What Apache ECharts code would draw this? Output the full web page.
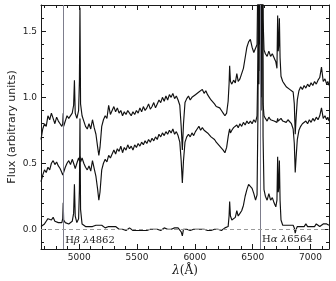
<!DOCTYPE html>
<html><head><meta charset="utf-8">
<script src="https://cdn.jsdelivr.net/npm/echarts@6/dist/echarts.min.js"></script>
<style>html,body{margin:0;padding:0;background:#fff}#c{width:336px;height:281px}</style>
</head><body><div id="c"></div>
<script>
const wavelengths = [
4670,4685,4700,4715,4730,4745,4760,4775,4790,4805,
4820,4835,4850,4858,4862,4866,4880,4895,4910,4925,
4940,4952,4959,4966,4980,4995,5002,5007,5012,5025,
5040,5055,5070,5085,5100,5115,5130,5145,5160,5170,
5180,5195,5210,5225,5240,5255,5270,5285,5300,5315,
5330,5345,5360,5375,5390,5405,5420,5435,5450,5465,
5480,5495,5510,5525,5540,5555,5570,5585,5600,5615,
5630,5645,5660,5675,5690,5705,5720,5735,5750,5765,
5780,5795,5810,5825,5840,5855,5870,5882,5892,5902,
5915,5930,5945,5960,5975,5990,6005,6020,6035,6050,
6065,6080,6095,6110,6125,6140,6155,6170,6185,6200,
6215,6230,6245,6260,6275,6288,6296,6301,6308,6320,
6335,6350,6363,6375,6390,6405,6420,6435,6450,6465,
6480,6495,6510,6525,6538,6546,6550,6554,6558,6562,
6565,6569,6573,6577,6581,6585,6590,6598,6610,6625,
6640,6655,6670,6685,6700,6710,6716,6721,6726,6731,
6737,6745,6760,6775,6790,6805,6820,6835,6850,6860,
6868,6876,6886,6900,6915,6930,6945,6960,6975,6990,
7005,7020,7035,7050,7065,7080,7095,7110,7125,7140,
7150,7160];

const fluxTop = [
0.68,0.76,0.80,0.78,0.86,0.83,0.88,0.84,0.80,0.85,
0.82,0.80,0.78,0.80,0.88,0.78,0.82,0.86,0.84,0.83,
0.88,0.94,1.13,0.88,0.84,0.90,1.12,1.68,0.95,0.86,
0.82,0.78,0.76,0.80,0.76,0.83,0.77,0.72,0.62,0.56,
0.62,0.78,0.83,0.86,0.84,0.94,0.87,0.90,0.93,0.89,
0.92,0.88,0.90,0.86,0.89,0.87,0.90,0.88,0.86,0.89,
0.87,0.90,0.88,0.92,0.89,0.93,0.90,0.92,0.95,0.91,
0.93,0.96,0.92,0.95,0.98,0.96,1.00,0.97,1.01,0.98,
1.02,1.00,1.03,0.99,1.01,0.98,0.94,0.78,0.60,0.80,
0.96,0.99,1.01,0.98,1.00,0.99,1.02,1.01,1.04,1.03,
1.06,1.03,1.05,1.02,1.00,0.98,0.97,0.95,0.93,0.94,
0.92,0.90,0.88,0.86,0.88,0.97,1.10,1.24,1.12,1.10,
1.13,1.11,1.18,1.12,1.14,1.15,1.22,1.30,1.38,1.42,
1.44,1.38,1.34,1.33,1.40,2.0,2.6,1.8,2.8,3.0,
2.1,2.7,1.7,2.3,2.5,2.6,1.6,1.36,1.33,1.31,
1.35,1.31,1.33,1.30,1.27,1.22,1.62,1.35,1.40,1.60,
1.30,1.16,1.12,1.10,1.08,1.09,1.06,1.07,1.04,0.95,
0.72,0.85,0.98,1.05,1.08,1.06,1.09,1.07,1.10,1.08,
1.11,1.09,1.12,1.10,1.13,1.15,1.23,1.12,1.14,1.10,
1.12,1.09];

const fluxMiddle = [
0.36,0.41,0.45,0.43,0.47,0.45,0.50,0.52,0.49,0.51,
0.48,0.46,0.43,0.41,0.40,0.42,0.47,0.50,0.52,0.49,
0.53,0.50,0.48,0.46,0.50,0.54,0.52,0.55,0.51,0.54,
0.50,0.47,0.45,0.48,0.44,0.52,0.46,0.40,0.30,0.22,
0.28,0.45,0.50,0.53,0.51,0.56,0.54,0.57,0.60,0.57,
0.61,0.59,0.63,0.58,0.62,0.60,0.64,0.61,0.63,0.60,
0.64,0.62,0.65,0.63,0.66,0.64,0.67,0.65,0.68,0.66,
0.69,0.67,0.70,0.68,0.72,0.70,0.73,0.71,0.74,0.72,
0.75,0.73,0.76,0.72,0.74,0.71,0.66,0.52,0.35,0.52,
0.66,0.70,0.72,0.70,0.73,0.71,0.74,0.76,0.78,0.75,
0.77,0.75,0.76,0.73,0.72,0.70,0.71,0.68,0.66,0.65,
0.63,0.62,0.60,0.58,0.62,0.70,0.74,0.76,0.73,0.75,
0.77,0.76,0.79,0.77,0.80,0.78,0.81,0.79,0.82,0.80,
0.82,0.80,0.83,0.81,0.86,1.3,2.0,1.2,2.2,2.5,
1.5,2.3,1.0,1.7,2.0,2.1,0.95,0.86,0.84,0.82,
0.85,0.83,0.84,0.82,0.83,0.81,0.84,0.82,0.83,0.81,
0.82,0.84,0.82,0.83,0.81,0.83,0.82,0.80,0.76,0.65,
0.43,0.55,0.68,0.75,0.78,0.80,0.79,0.82,0.80,0.83,
0.81,0.84,0.82,0.85,0.83,0.86,0.92,0.84,0.86,0.83,
0.85,0.82];

const fluxBottom = [
0.02,0.03,0.04,0.06,0.08,0.09,0.07,0.09,0.06,0.05,
0.05,0.06,0.05,0.08,0.20,0.07,0.05,0.06,0.04,0.05,
0.06,0.12,0.34,0.10,0.05,0.08,0.30,0.84,0.15,0.04,
0.03,0.02,0.03,0.02,0.03,0.02,0.02,0.03,0.02,0.03,
0.02,0.03,0.02,0.01,0.02,0.02,0.01,0.02,0.01,0.02,
0.01,0.00,0.01,0.00,0.01,-0.01,0.00,0.01,0.00,-0.01,
0.00,-0.01,0.00,-0.01,0.00,-0.01,0.00,-0.01,-0.01,0.00,
-0.01,0.00,-0.01,0.00,0.01,-0.01,0.00,0.01,0.00,0.00,
0.01,0.00,0.00,0.01,0.00,0.01,0.00,-0.02,-0.05,0.00,
0.01,0.00,0.00,-0.01,0.00,0.00,-0.01,0.00,-0.01,0.00,
-0.01,0.00,0.00,-0.01,0.00,-0.01,0.00,0.00,-0.01,0.00,
0.00,-0.01,0.00,0.01,0.00,0.02,0.10,0.21,0.10,0.07,
0.08,0.09,0.14,0.10,0.12,0.14,0.18,0.25,0.30,0.34,
0.35,0.31,0.27,0.22,0.26,0.9,1.9,1.1,2.1,2.6,
1.4,2.2,0.9,1.6,1.9,2.0,0.7,0.30,0.25,0.22,
0.27,0.22,0.24,0.20,0.17,0.22,0.55,0.28,0.32,0.52,
0.22,0.07,0.03,0.02,0.03,0.02,0.03,0.02,0.03,0.01,
-0.03,0.00,0.02,0.03,0.02,0.03,0.02,0.04,0.02,0.03,
0.02,0.03,0.02,0.04,0.03,0.02,0.03,0.04,0.03,0.04,
0.05,0.03];

const xMajorTicks = [5000, 5500, 6000, 6500, 7000];
const xMinorTicks = [4700,4800,4900,5000,5100,5200,5300,5400,5500,5600,5700,5800,5900,6000,6100,6200,6300,6400,6500,6600,6700,6800,6900,7000,7100];
const yMajorTicks = [0.0, 0.5, 1.0, 1.5];
const yMinorTicks = [-0.1,0.0,0.1,0.2,0.3,0.4,0.5,0.6,0.7,0.8,0.9,1.0,1.1,1.2,1.3,1.4,1.5,1.6,1.7];
const lineMarkers = [4862, 6564];
const lineNames = ['{r|H}{i|β} {i|λ}{r|4862}', '{r|H}{i|α} {i|λ}{r|6564}'];

const X_MIN = 4670, X_MAX = 7160, Y_MIN = -0.15, Y_MAX = 1.7;
const axisColor = '#1a1a1a';

function xAxisDef(position, ticks, len, showLine, showLabel) {
  return {
    type: 'value', min: X_MIN, max: X_MAX, position: position,
    axisLine: { show: showLine, onZero: false, lineStyle: { color: axisColor, width: 1 } },
    axisTick: { show: true, inside: true, length: len, customValues: ticks, lineStyle: { color: axisColor, width: 1 } },
    axisLabel: { show: showLabel, customValues: ticks, margin: 4, fontSize: 9, color: '#222', fontFamily: 'DejaVu Sans',
      formatter: v => String(Math.round(v)) },
    splitLine: { show: false }
  };
}
function yAxisDef(position, ticks, len, showLine, showLabel) {
  return {
    type: 'value', min: Y_MIN, max: Y_MAX, position: position,
    axisLine: { show: showLine, onZero: false, lineStyle: { color: axisColor, width: 1 } },
    axisTick: { show: true, inside: true, length: len, customValues: ticks, lineStyle: { color: axisColor, width: 1 } },
    axisLabel: { show: showLabel, customValues: ticks, margin: 4, fontSize: 9, color: '#222', fontFamily: 'DejaVu Sans',
      formatter: v => v.toFixed(1) },
    splitLine: { show: false }
  };
}

function pairs(vals) { return wavelengths.map((w, i) => [w, vals[i]]); }

const lineStyle = { color: '#111', width: 1.15 };
const richText = {
  r: { fontFamily: 'DejaVu Serif', fontSize: 10, color: '#222' },
  i: { fontFamily: 'DejaVu Serif', fontStyle: 'italic', fontSize: 10, color: '#222' }
};

const chart = echarts.init(document.getElementById('c'), null, { renderer: 'canvas' });
chart.setOption({
  animation: false,
  backgroundColor: '#fff',
  grid: { left: 41, right: 7, top: 5, bottom: 32, containLabel: false },
  xAxis: [
    xAxisDef('bottom', xMajorTicks, 5, true, true),
    xAxisDef('bottom', xMinorTicks, 3, false, false),
    xAxisDef('top', xMajorTicks, 5, true, false),
    xAxisDef('top', xMinorTicks, 3, false, false)
  ],
  yAxis: [
    yAxisDef('left', yMajorTicks, 5, true, true),
    yAxisDef('left', yMinorTicks, 3, false, false),
    yAxisDef('right', yMajorTicks, 5, true, false),
    yAxisDef('right', yMinorTicks, 3, false, false)
  ],
  series: [
    {
      type: 'line', data: [], xAxisIndex: 0, yAxisIndex: 0, silent: true, z: 1,
      markLine: {
        silent: true, symbol: 'none', animation: false,
        label: { show: false },
        data: [
          { xAxis: lineMarkers[0], lineStyle: { color: '#7d7d8c', width: 1, type: 'solid' } },
          { xAxis: lineMarkers[1], lineStyle: { color: '#7d7d8c', width: 1, type: 'solid' } },
          { yAxis: 0, lineStyle: { color: '#9a9a9a', width: 1, type: [4, 3] } }
        ]
      },
      markPoint: {
        silent: true, symbol: 'circle', symbolSize: 0,
        data: [
          { coord: [lineMarkers[0], -0.083], label: { show: true, position: 'right', distance: 2, formatter: lineNames[0], rich: richText } },
          { coord: [lineMarkers[1], -0.078], label: { show: true, position: 'right', distance: 2, formatter: lineNames[1], rich: richText } }
        ]
      }
    },
    { type: 'line', data: pairs(fluxBottom), showSymbol: false, lineStyle: lineStyle, silent: true, z: 3 },
    { type: 'line', data: pairs(fluxMiddle), showSymbol: false, lineStyle: lineStyle, silent: true, z: 3 },
    { type: 'line', data: pairs(fluxTop), showSymbol: false, lineStyle: lineStyle, silent: true, z: 3 }
  ],
  graphic: [
    { type: 'text', x: 12, y: 127, rotation: Math.PI / 2,
      style: { text: 'Flux (arbitrary units)', font: '11px "DejaVu Sans"', fill: '#222', align: 'center', verticalAlign: 'middle' } },
    { type: 'text', x: 185, y: 271,
      style: { text: '{i|λ}{r|(Å)}', rich: {
        i: { fontFamily: 'DejaVu Serif', fontStyle: 'italic', fontSize: 12, fill: '#222' },
        r: { fontFamily: 'DejaVu Serif', fontSize: 12, fill: '#222' } },
        align: 'center', verticalAlign: 'middle' } }
  ]
});
</script>
</body></html>
